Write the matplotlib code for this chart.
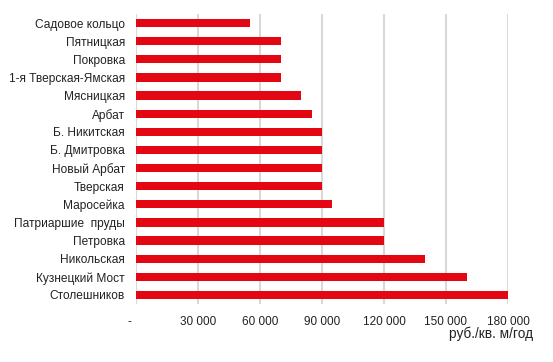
import matplotlib.pyplot as plt
from matplotlib.transforms import ScaledTranslation

plt.rcParams["font.family"] = ["Liberation Sans", "DejaVu Sans"]

streets = [
    "Садовое кольцо", "Пятницкая", "Покровка", "1-я Тверская-Ямская",
    "Мясницкая", "Арбат", "Б. Никитская", "Б. Дмитровка", "Новый Арбат",
    "Тверская", "Маросейка", "Патриаршие  пруды", "Петровка",
    "Никольская", "Кузнецкий Мост", "Столешников",
]
rent = [
    55000, 70000, 70000, 70000, 80000, 85000, 90000, 90000, 90000,
    90000, 95000, 120000, 120000, 140000, 160000, 180000,
]
ticks = [0, 30000, 60000, 90000, 120000, 150000, 180000]


def fmt(v):
    return "-" if v == 0 else f"{v:,}".replace(",", " ")


fig = plt.figure(figsize=(5.53, 3.62), dpi=100)
ax = fig.add_axes([0.2459, 0.1602, 0.6727, 0.8011])

pos = list(range(len(streets)))
ax.barh(pos, rent, height=0.45, color="#e30613", zorder=3)

ax.set_xlim(0, 180000)
ax.set_ylim(len(streets) - 0.5, -0.5)
ax.set_yticks(pos)
ax.set_yticklabels(streets, fontsize=8.6, color="#222222")
ax.set_xticks(ticks)
ax.set_xticklabels([fmt(t) for t in ticks], fontsize=8.5, color="#222222")
ax.tick_params(axis="both", length=0)
ax.tick_params(axis="y", pad=8)
ax.tick_params(axis="x", pad=8.5)

# the "-" for zero sits a bit left of the axis in the original
lbl0 = ax.get_xticklabels()[0]
lbl0.set_transform(lbl0.get_transform() + ScaledTranslation(-0.07, 0, fig.dpi_scale_trans))

ax.grid(axis="x", color="#d9d9d9", linewidth=1.5, zorder=0)
for s in ax.spines.values():
    s.set_visible(False)

fig.text(533 / 553, 1 - 334 / 362, "руб./кв. м/год", ha="right", va="center",
         fontsize=9.8, color="#222222")

fig.savefig("out.png", dpi=100)
